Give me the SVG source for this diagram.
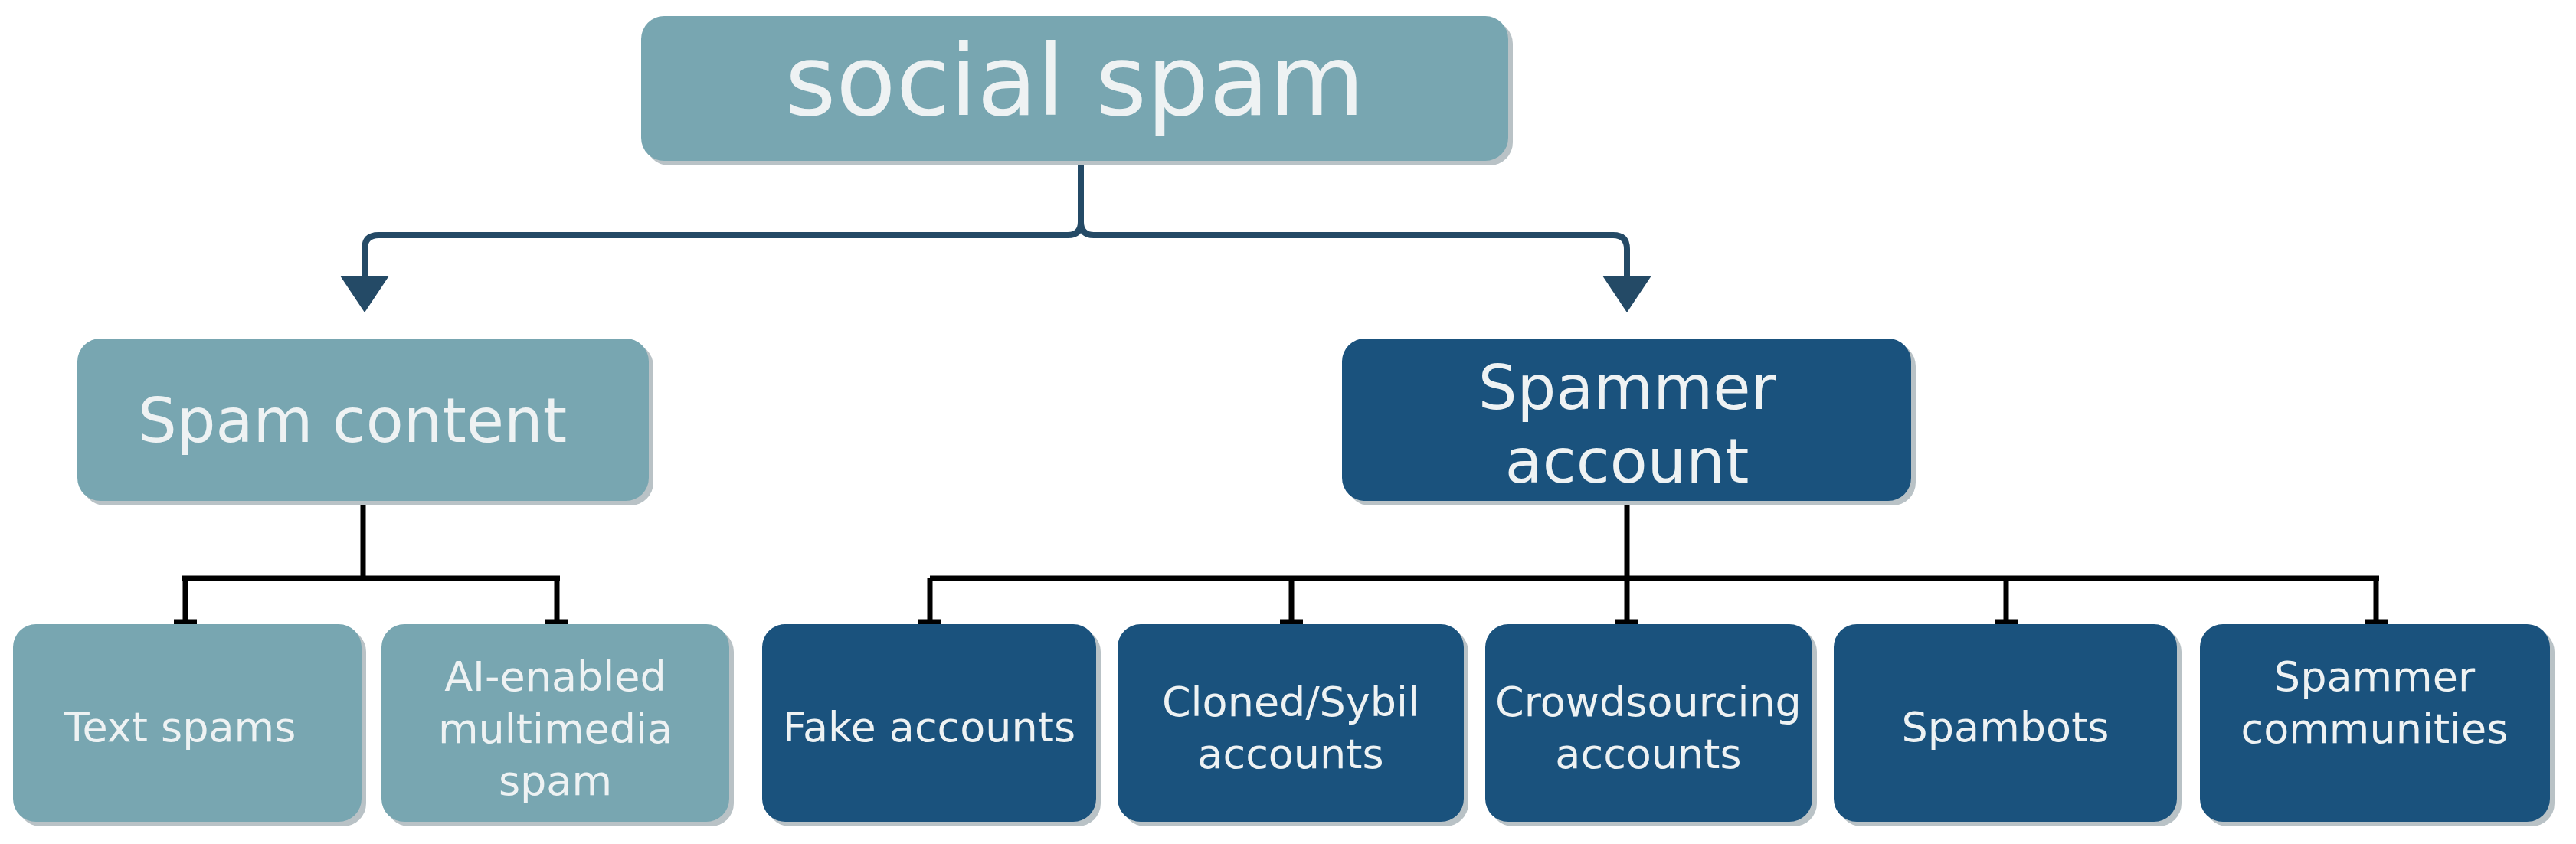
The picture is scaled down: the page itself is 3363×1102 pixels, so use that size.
<svg xmlns="http://www.w3.org/2000/svg" width="3363" height="1102" viewBox="0 0 3363 1102">
<style>
.l{fill:#78a6b1}.d{fill:#1a527d}.sh{fill:#b9c2c6}
text{font-family:"DejaVu Sans","Noto Sans",sans-serif;fill:#eef2f3;text-anchor:middle}
.top{stroke:#244a66;stroke-width:8;fill:none}
.bot{stroke:#000;stroke-width:7;fill:none}
</style>
<defs><marker id="ar" markerWidth="6" markerHeight="8" refX="5" refY="4" orient="auto" markerUnits="strokeWidth"><path d="M0,0 L6,4 L0,8 Z" fill="#244a66"/></marker></defs>
<rect width="3363" height="1102" fill="#fff"/>
<g id="connectors">
<path class="top" d="M1411,210 V290 Q1411,307 1394,307 H494 Q476,307 476,325 V400" marker-end="url(#ar)"/>
<path class="top" d="M1411,290 Q1411,307 1428,307 H2106 Q2124,307 2124,325 V400" marker-end="url(#ar)"/>
<path class="bot" d="M474,654 V755 M238,755 H731 M242,755 V812 M727,755 V812 M1214,755 H3106 M2124,654 V812 M1214,755 V812 M1686,755 V812 M2619,755 V812 M3102,755 V812"/>
<path class="bot" d="M227,812 H257 M712,812 H742 M1199,812 H1229 M1671,812 H1701 M2109,812 H2139 M2604,812 H2634 M3087,812 H3117"/>
</g>
<g id="root"><rect class="sh" x="843" y="27" width="1132" height="189" rx="30"/><rect class="l" x="837" y="21" width="1132" height="189" rx="30"/><text x="1403" y="150" font-size="128">social spam</text></g>
<g id="spamcontent"><rect class="sh" x="107" y="448" width="746" height="212" rx="30"/><rect class="l" x="101" y="442" width="746" height="212" rx="30"/><text x="460" y="577" font-size="80">Spam content</text></g>
<g id="spammeraccount"><rect class="sh" x="1758" y="448" width="743" height="212" rx="30"/><rect class="d" x="1752" y="442" width="743" height="212" rx="30"/><text x="2124" y="534" font-size="80">Spammer</text><text x="2124" y="630" font-size="80">account</text></g>
<g id="textspams"><rect class="sh" x="23" y="821" width="455" height="258" rx="30"/><rect class="l" x="17" y="815" width="455" height="258" rx="30"/><text x="235" y="968" font-size="54">Text spams</text></g>
<g id="aienabled"><rect class="sh" x="504" y="821" width="454" height="258" rx="30"/><rect class="l" x="498" y="815" width="454" height="258" rx="30"/><text x="725" y="902" font-size="54">AI-enabled</text><text x="725" y="970" font-size="54">multimedia</text><text x="725" y="1038" font-size="54">spam</text></g>
<g id="fake"><rect class="sh" x="1001" y="821" width="436" height="258" rx="30"/><rect class="d" x="995" y="815" width="436" height="258" rx="30"/><text x="1213" y="968" font-size="54">Fake accounts</text></g>
<g id="cloned"><rect class="sh" x="1465" y="821" width="452" height="258" rx="30"/><rect class="d" x="1459" y="815" width="452" height="258" rx="30"/><text x="1685" y="935" font-size="54">Cloned/Sybil</text><text x="1685" y="1003" font-size="54">accounts</text></g>
<g id="crowd"><rect class="sh" x="1945" y="821" width="427" height="258" rx="30"/><rect class="d" x="1939" y="815" width="427" height="258" rx="30"/><text x="2152" y="935" font-size="54">Crowdsourcing</text><text x="2152" y="1003" font-size="54">accounts</text></g>
<g id="spambots"><rect class="sh" x="2400" y="821" width="448" height="258" rx="30"/><rect class="d" x="2394" y="815" width="448" height="258" rx="30"/><text x="2618" y="968" font-size="54">Spambots</text></g>
<g id="communities"><rect class="sh" x="2878" y="821" width="457" height="258" rx="30"/><rect class="d" x="2872" y="815" width="457" height="258" rx="30"/><text x="3100" y="902" font-size="54">Spammer</text><text x="3100" y="970" font-size="54">communities</text></g>
</svg>
